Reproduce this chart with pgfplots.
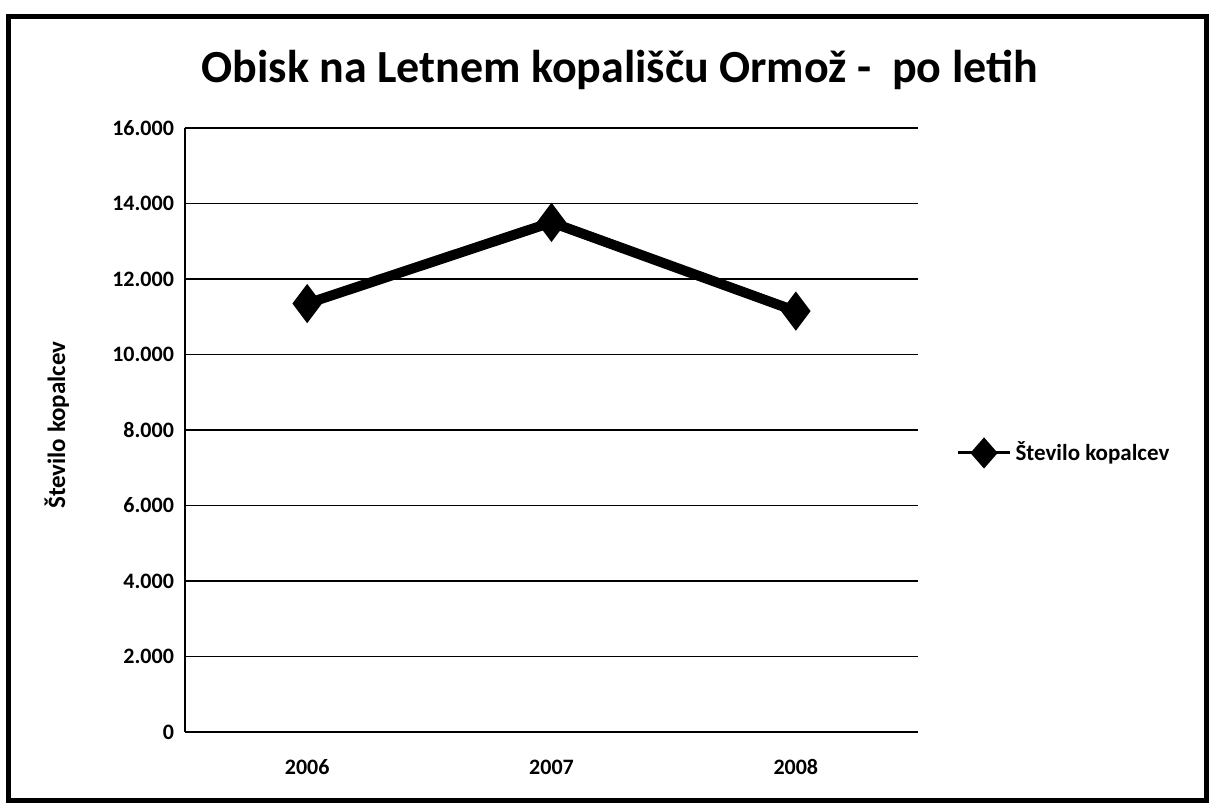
\documentclass[border=0pt]{standalone}
\usepackage{pgfplots}
\pgfplotsset{compat=1.18}
\usepackage{fontspec}
\setmainfont[Numbers=Lining]{Carlito}
\begin{document}
\begin{tikzpicture}
\path[use as bounding box] (0pt,0pt) rectangle (605pt,405.5pt);
\draw[line width=2.5pt] (4pt,5.5pt) rectangle (603pt,397pt);
\begin{axis}[
  at={(92.5pt,39.5pt)}, anchor=south west,
  scale only axis, width=366.5pt, height=302pt,
  xmin=-0.5, xmax=2.5, ymin=0, ymax=16000,
  xtick={0,1,2}, xticklabels={2006,2007,2008},
  ytick={0,2000,...,16000},
  ymajorgrids, grid style={black, line width=0.6pt},
  axis line style={black, line width=0.6pt},
  axis x line*=bottom, axis y line*=left,
  major tick length=0pt,
  tick label style={font=\fontsize{11}{13}\selectfont\bfseries},
  xticklabel style={yshift=-10pt, text height=1.6ex, text depth=0.3ex},
  yticklabel style={xshift=-2pt},
  /pgf/number format/.cd, 1000 sep={.}, fixed, assume math mode=true,
  /pgfplots/.cd,
  scaled y ticks=false,
  ylabel={Število kopalcev},
  every axis y label/.style={at={(axis description cs:-0.175,0.508)}, rotate=90, anchor=center, font=\fontsize{12.5}{14}\selectfont\bfseries},
  title={Obisk na Letnem kopališču Ormož -\ \ po letih},
  title style={at={(axis description cs:0.593,1.077)}, anchor=center, font=\fontsize{23}{26}\selectfont\bfseries},
  legend style={at={(axis description cs:1.052,0.462)}, anchor=west, draw=none, fill=none, font=\fontsize{11.5}{13}\selectfont\bfseries, inner sep=0pt},
  legend cell align=left,
  legend image code/.code={
    \draw[black, line width=1.5pt] (0pt,0pt) -- (26pt,0pt);
    \fill[black] (13pt,0pt) +(0pt,4pt) -- +(3.5pt,0pt) -- +(0pt,-4pt) -- +(-3.5pt,0pt) -- cycle;
  },
  clip=false,
]
\addplot[black, line width=5pt, mark=diamond*, mark options={line width=1pt, mark size=9pt, fill=black}]
  coordinates {(0,11350) (1,13500) (2,11150)};
\addlegendentry{Število kopalcev}
\end{axis}
\end{tikzpicture}
\end{document}
